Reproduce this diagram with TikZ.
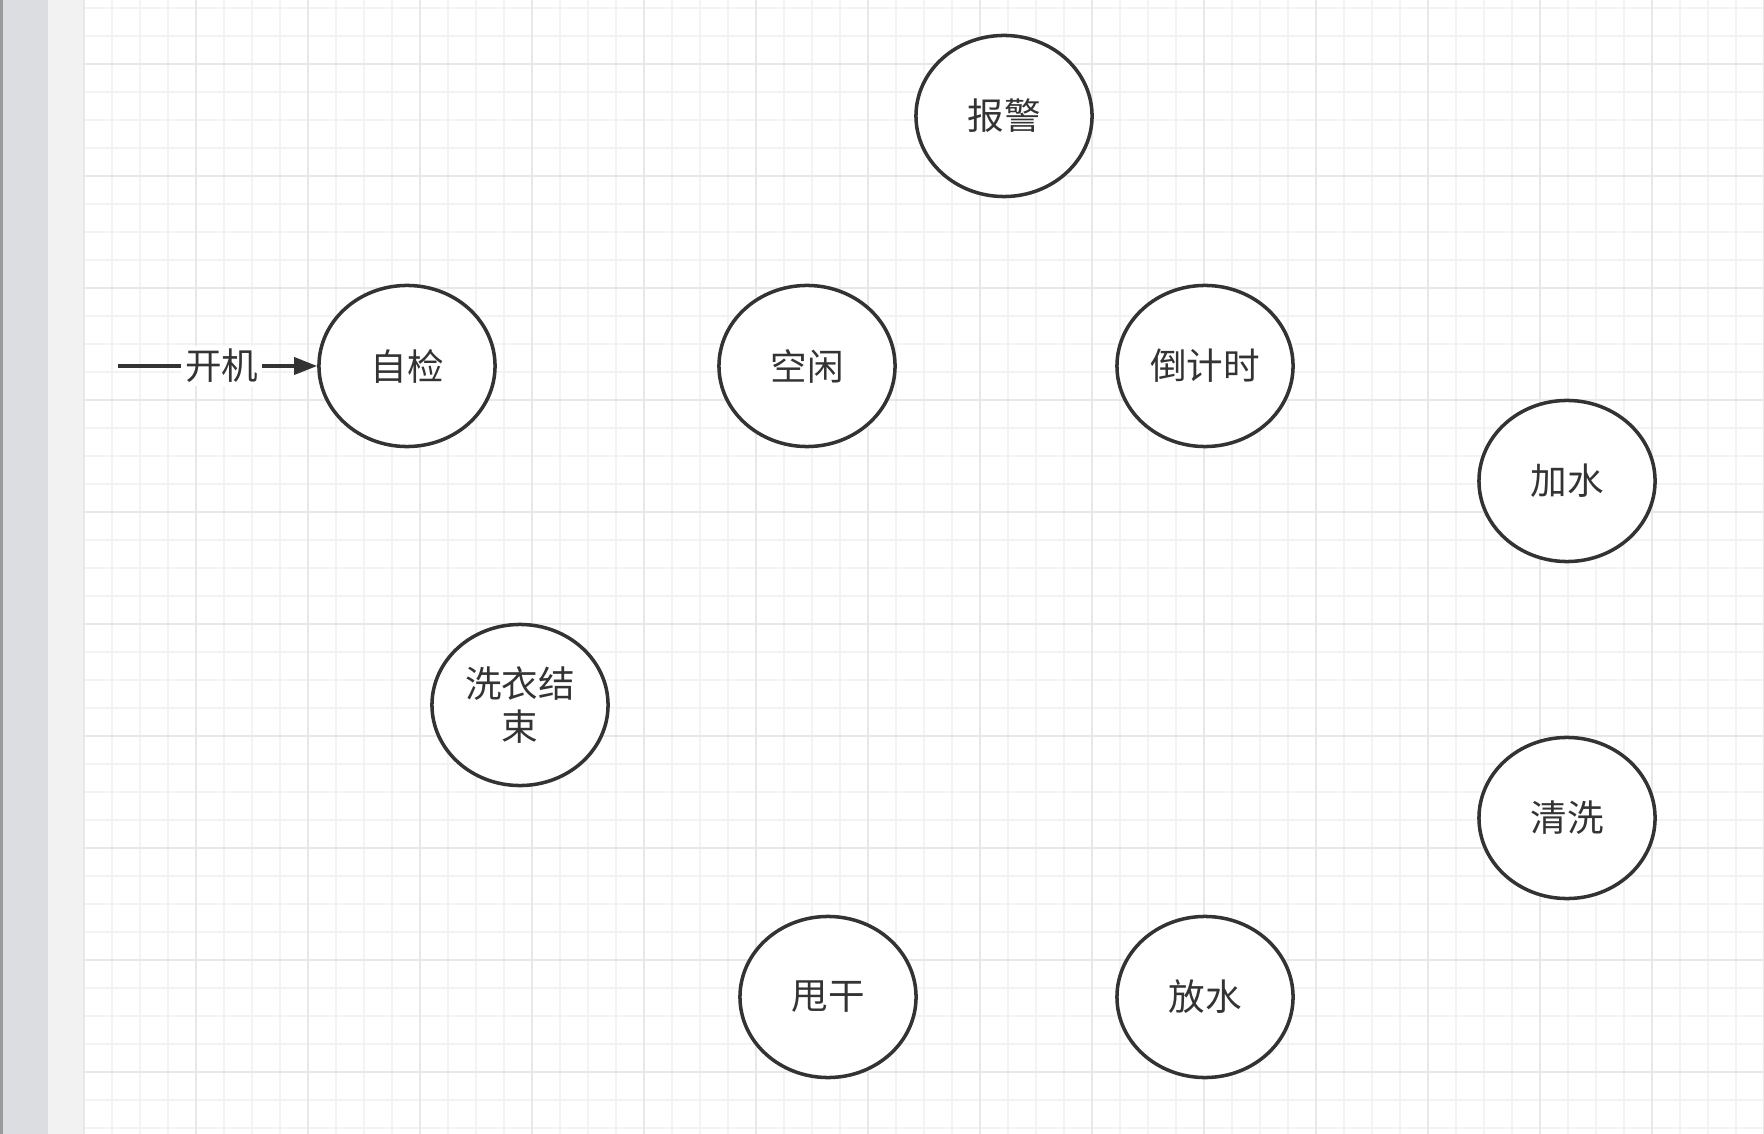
\documentclass[tikz,border=0pt]{standalone}
\usepackage{fontspec}
\setmainfont{Noto Sans CJK SC}
\usetikzlibrary{shapes,arrows.meta,positioning}

\definecolor{inkcol}{HTML}{333333}
\definecolor{edgecol}{HTML}{9A9A9A}
\definecolor{stripcol}{HTML}{DCDDE1}
\definecolor{panelcol}{HTML}{F2F2F2}
\definecolor{minorcol}{HTML}{F3F3F3}
\definecolor{majorcol}{HTML}{E8E8E8}

\begin{document}
\begin{tikzpicture}[x=0.01cm, y=-0.01cm,
    state/.style={ellipse, draw=inkcol, line width=1pt, fill=white,
        minimum width=1.76cm, minimum height=1.61cm, inner sep=0pt,
        align=center, text=inkcol, font=\fontsize{10.4}{12.3}\selectfont}]

    \useasboundingbox (0,0) rectangle (1764,1134);

    % Side panel
    \fill[edgecol] (0,0) rectangle (3,1134);
    \fill[stripcol] (3,0) rectangle (48,1134);
    \fill[panelcol] (48,0) rectangle (84,1134);

    % Grid
    \foreach \i in {0,...,60} \draw[minorcol, line width=0.6pt] ({84+28*\i},0) -- ++(0,1134);
    \foreach \j in {0,...,40} \draw[minorcol, line width=0.6pt] (84,{8+28*\j}) -- (1764,{8+28*\j});
    \foreach \i in {0,...,15} \draw[majorcol, line width=0.6pt] ({84+112*\i},0) -- ++(0,1134);
    \foreach \j in {0,...,9} \draw[majorcol, line width=0.6pt] (84,{64+112*\j}) -- (1764,{64+112*\j});

    % States
    \node[state] (alarm) at (1004,116) {报警};
    \node[state] (check) at (407,366) {自检};
    \node[state] (idle) at (807,366) {空闲};
    \node[state] (countdown) at (1205,366) {倒计时};
    \node[state] (waterin) at (1567,481) {加水};
    \node[state] (rinse) at (1567,818) {清洗};
    \node[state] (drain) at (1205,997) {放水};
    \node[state] (spin) at (828,997) {甩干};
    \node[state] (done) at (520,705) {洗衣结\\束};

    % Power on
    \coordinate (start) at (118,366);
    \draw[inkcol, line width=1pt, -{Triangle[length=0.23cm, width=0.17cm]}] (start) -- node[pos=0.52, fill=white, inner sep=1pt, text=inkcol, font=\fontsize{10.4}{12.3}\selectfont]{开机} (check);

\end{tikzpicture}
\end{document}
